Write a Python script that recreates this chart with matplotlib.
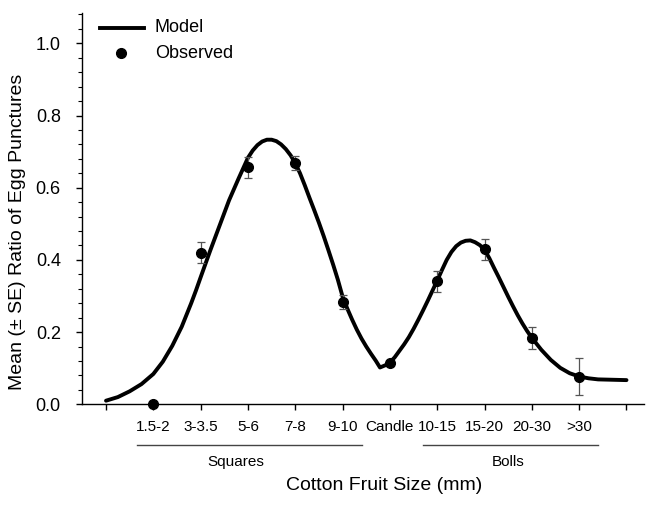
import matplotlib
matplotlib.use("Agg")
import matplotlib.pyplot as plt
from matplotlib.lines import Line2D
from matplotlib.ticker import MultipleLocator
import matplotlib.transforms as mtransforms

plt.rcParams['font.family'] = ['Liberation Sans', 'DejaVu Sans']

# ---- data ----
categories = ["1.5-2", "3-3.5", "5-6", "7-8", "9-10", "Candle",
              "10-15", "15-20", "20-30", ">30"]
cat_pos = [1, 2, 3, 4, 5, 6, 7, 8, 9, 10]
observed = [0.0, 0.420, 0.657, 0.669, 0.284, 0.114, 0.341, 0.429, 0.183, 0.077]
observed_se = [0.0, 0.029, 0.029, 0.020, 0.020, 0.007, 0.029, 0.029, 0.030, 0.050]

model_x = [0.0, 0.25, 0.5, 0.75, 1.0, 1.2, 1.4, 1.6, 1.8, 1.9, 2.0, 2.2, 2.4, 2.6,
           2.8, 3.0, 3.1, 3.2, 3.3, 3.4, 3.5, 3.6, 3.7, 3.8, 3.9, 4.0, 4.1, 4.2,
           4.3, 4.4, 4.5, 4.6, 4.7, 4.8, 4.9, 5.0, 5.1, 5.2, 5.3, 5.4, 5.5, 5.6,
           5.7, 5.79, 5.9, 6.0, 6.1, 6.2, 6.3, 6.4, 6.5, 6.6, 6.7, 6.8, 6.9, 7.0,
           7.1, 7.2, 7.3, 7.4, 7.5, 7.6, 7.7, 7.8, 7.9, 8.0, 8.1, 8.2, 8.3, 8.4,
           8.5, 8.6, 8.7, 8.8, 8.9, 9.0, 9.2, 9.4, 9.6, 9.8, 10.0, 10.2, 10.4,
           10.7, 11.0]
model_y = [0.010, 0.020, 0.036, 0.056, 0.084, 0.118, 0.162, 0.215, 0.280, 0.315,
           0.352, 0.425, 0.495, 0.565, 0.625, 0.683, 0.703, 0.718, 0.728, 0.733,
           0.733, 0.729, 0.720, 0.707, 0.690, 0.668, 0.640, 0.607, 0.572, 0.538,
           0.503, 0.466, 0.427, 0.387, 0.345, 0.298, 0.265, 0.235, 0.207, 0.182,
           0.160, 0.140, 0.121, 0.102, 0.108, 0.116, 0.130, 0.148, 0.166, 0.186,
           0.209, 0.234, 0.260, 0.287, 0.315, 0.343, 0.372, 0.400, 0.422, 0.438,
           0.448, 0.453, 0.454, 0.449, 0.441, 0.428, 0.405, 0.378, 0.352, 0.325,
           0.298, 0.272, 0.247, 0.224, 0.203, 0.184, 0.151, 0.123, 0.101, 0.086,
           0.077, 0.072, 0.069, 0.068, 0.067]

group_labels = ["Squares", "Bolls"]
group_spans = [(0.66, 5.41), (6.70, 10.40)]
group_centers = [2.74, 8.50]

W, H = 646, 505
fig = plt.figure(figsize=(W / 100, H / 100), dpi=100)
ax_left, ax_right, ax_top, ax_bot = 81.7, 644, 13, 404.3
ax = fig.add_axes([ax_left / W, 1 - ax_bot / H, (ax_right - ax_left) / W, (ax_bot - ax_top) / H])

ax.plot(model_x, model_y, color='black', lw=2.8, solid_joinstyle='round',
        solid_capstyle='round', zorder=2)
ax.errorbar(cat_pos, observed, yerr=observed_se, fmt='none', ecolor='#555555',
            elinewidth=0.9, capsize=3.2, capthick=0.9, zorder=3)
ax.plot(cat_pos, observed, 'o', color='black', ms=7, zorder=4, clip_on=False)

ax.set_xlim(-0.514, 11.37)
ax.set_ylim(0, 1.084)

for s in ['top', 'right']:
    ax.spines[s].set_visible(False)
for s in ['left', 'bottom']:
    ax.spines[s].set_linewidth(1.0)

ax.set_xticks(list(range(0, 12)))
ax.set_xticklabels([""] + categories + [""], fontsize=11)
ax.yaxis.set_major_locator(MultipleLocator(0.2))
ax.yaxis.set_minor_locator(MultipleLocator(0.04))
ax.set_yticks([0.0, 0.2, 0.4, 0.6, 0.8, 1.0])
ax.set_yticklabels(["0.0", "0.2", "0.4", "0.6", "0.8", "1.0"], fontsize=13)
ax.tick_params(axis='x', direction='out', length=4, width=1, pad=7)
ax.tick_params(axis='y', which='major', direction='out', length=4, width=1, pad=11)
ax.tick_params(axis='y', which='minor', direction='out', length=3, width=0.8)

# group brackets
trans = mtransforms.blended_transform_factory(ax.transData, fig.transFigure)
for (x0, x1), lab, cx in zip(group_spans, group_labels, group_centers):
    fig.add_artist(Line2D([x0, x1], [1 - 445 / H] * 2, transform=trans,
                          color='#444444', lw=1.0))
    fig.text(cx, 1 - 462 / H, lab, transform=trans, ha='center', va='center', fontsize=11)

fig.text(384.5 / W, 1 - 485 / H, "Cotton Fruit Size (mm)", ha='center', va='center', fontsize=14)
fig.text(17.5 / W, 1 - 232 / H, "Mean (± SE) Ratio of Egg Punctures", rotation=90,
         ha='center', va='center', fontsize=14)

# legend (manual)
fig.add_artist(Line2D([100 / W, 144 / W], [1 - 28 / H] * 2, transform=fig.transFigure,
                      color='black', lw=2.8))
fig.text(155 / W, 1 - 28 / H, "Model", ha='left', va='center', fontsize=13)
fig.add_artist(Line2D([120.7 / W], [1 - 53 / H], transform=fig.transFigure,
                      marker='o', color='black', ms=7, lw=0))
fig.text(155 / W, 1 - 53 / H, "Observed", ha='left', va='center', fontsize=13)

fig.savefig("out.png", dpi=100)
